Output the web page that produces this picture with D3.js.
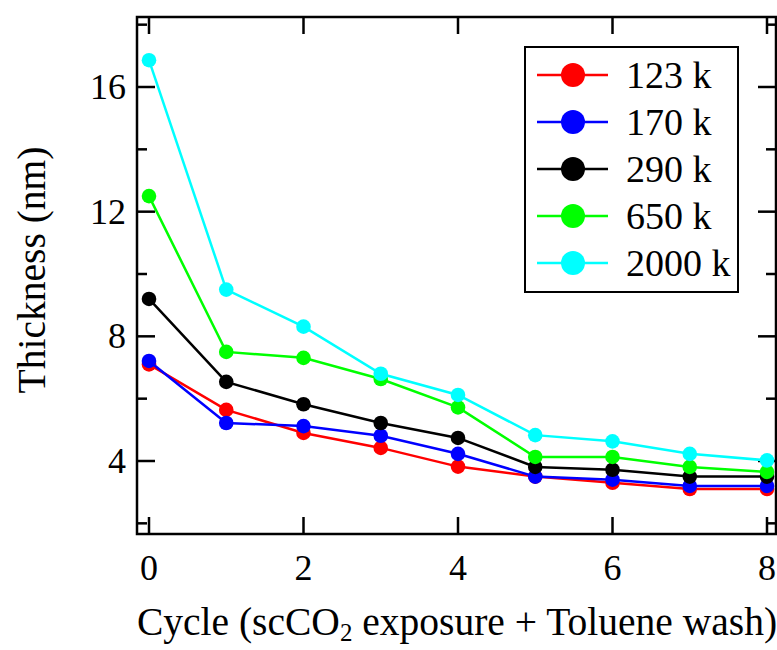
<!DOCTYPE html>
<html><head><meta charset="utf-8">
<script src="https://cdn.jsdelivr.net/npm/d3@7"></script>
<style>body{margin:0;background:#fff}</style></head>
<body><svg id="c" width="777" height="650"></svg>
<script>
const cycles = [0,1,2,3,4,5,6,7,8];
const seriesNames = ["123 k","170 k","290 k","650 k","2000 k"];
const seriesColors = ["#ff0000","#0000ff","#000000","#00ff00","#00ffff"];
const s123k  = [7.1, 5.64, 4.9, 4.42, 3.82, 3.5, 3.3, 3.1, 3.1];
const s170k  = [7.21, 5.22, 5.12, 4.81, 4.23, 3.5, 3.4, 3.2, 3.2];
const s290k  = [9.2, 6.54, 5.82, 5.22, 4.74, 3.81, 3.72, 3.5, 3.5];
const s650k  = [12.5, 7.5, 7.31, 6.63, 5.72, 4.13, 4.13, 3.81, 3.65];
const s2000k = [16.86, 9.5, 8.31, 6.8, 6.12, 4.83, 4.63, 4.23, 4.02];
const xTicks = [0,2,4,6,8];
const yTicks = [4,8,12,16];
const yMinor = [2,6,10,14,18];
const allSeries = [s123k,s170k,s290k,s650k,s2000k];

const svg = d3.select("#c");
const L=137,R=776,T=17,B=534;
const x = d3.scaleLinear().domain([0,8]).range([149,767]);
const y = d3.scaleLinear().domain([4,16]).range([461,87]);
const font = "'Liberation Serif','Times New Roman',serif";

// ticks (inward, mirrored)
const g = svg.append("g").attr("stroke","#000").attr("stroke-width",2.5);
xTicks.forEach(t=>{
  g.append("line").attr("x1",x(t)).attr("x2",x(t)).attr("y1",B).attr("y2",B-17);
  g.append("line").attr("x1",x(t)).attr("x2",x(t)).attr("y1",T).attr("y2",T+17);
});
yTicks.forEach(t=>{
  g.append("line").attr("x1",L).attr("x2",L+18).attr("y1",y(t)).attr("y2",y(t));
  g.append("line").attr("x1",R).attr("x2",R-18).attr("y1",y(t)).attr("y2",y(t));
});
yMinor.forEach(t=>{
  g.append("line").attr("x1",L).attr("x2",L+10).attr("y1",y(t)).attr("y2",y(t));
  g.append("line").attr("x1",R).attr("x2",R-10).attr("y1",y(t)).attr("y2",y(t));
});

// data lines
const line = d3.line().x((d,i)=>x(cycles[i])).y(d=>y(d));
allSeries.forEach((s,k)=>{
  svg.append("path").datum(s).attr("d",line).attr("fill","none")
    .attr("stroke",seriesColors[k]).attr("stroke-width",2.5);
  svg.append("g").selectAll("circle").data(s).join("circle")
    .attr("cx",(d,i)=>x(cycles[i])).attr("cy",d=>y(d)).attr("r",7.3)
    .attr("fill",seriesColors[k]);
});

// frame
svg.append("rect").attr("x",L).attr("y",T).attr("width",R-L).attr("height",B-T)
  .attr("fill","none").attr("stroke","#000").attr("stroke-width",2.5);

// tick labels
xTicks.forEach(t=>{
  svg.append("text").attr("x",x(t)).attr("y",580).attr("text-anchor","middle")
    .attr("font-family",font).attr("font-size",36).text(t);
});
yTicks.forEach(t=>{
  svg.append("text").attr("x",126).attr("y",y(t)+12).attr("text-anchor","end")
    .attr("font-family",font).attr("font-size",36).text(t);
});

// axis titles
const xt = svg.append("text").attr("x",457).attr("y",635).attr("text-anchor","middle")
  .attr("font-family",font).attr("font-size",39.5);
xt.append("tspan").text("Cycle (scCO");
xt.append("tspan").attr("font-size",25).attr("dy",6).text("2");
xt.append("tspan").attr("dy",-6).text(" exposure + Toluene wash)");
svg.append("text").attr("transform","translate(45,270) rotate(-90)").attr("text-anchor","middle")
  .attr("font-family",font).attr("font-size",39.5).text("Thickness (nm)");

// legend
svg.append("rect").attr("x",525).attr("y",47).attr("width",213).attr("height",245)
  .attr("fill","#fff").attr("stroke","#000").attr("stroke-width",2);
seriesNames.forEach((n,k)=>{
  const yy = 75 + k*47;
  svg.append("line").attr("x1",537).attr("x2",608).attr("y1",yy).attr("y2",yy)
    .attr("stroke",seriesColors[k]).attr("stroke-width",2.5);
  svg.append("circle").attr("cx",573).attr("cy",yy).attr("r",12).attr("fill",seriesColors[k]);
  svg.append("text").attr("x",626).attr("y",yy+13).attr("font-family",font)
    .attr("font-size",38).text(n);
});
</script></body></html>
